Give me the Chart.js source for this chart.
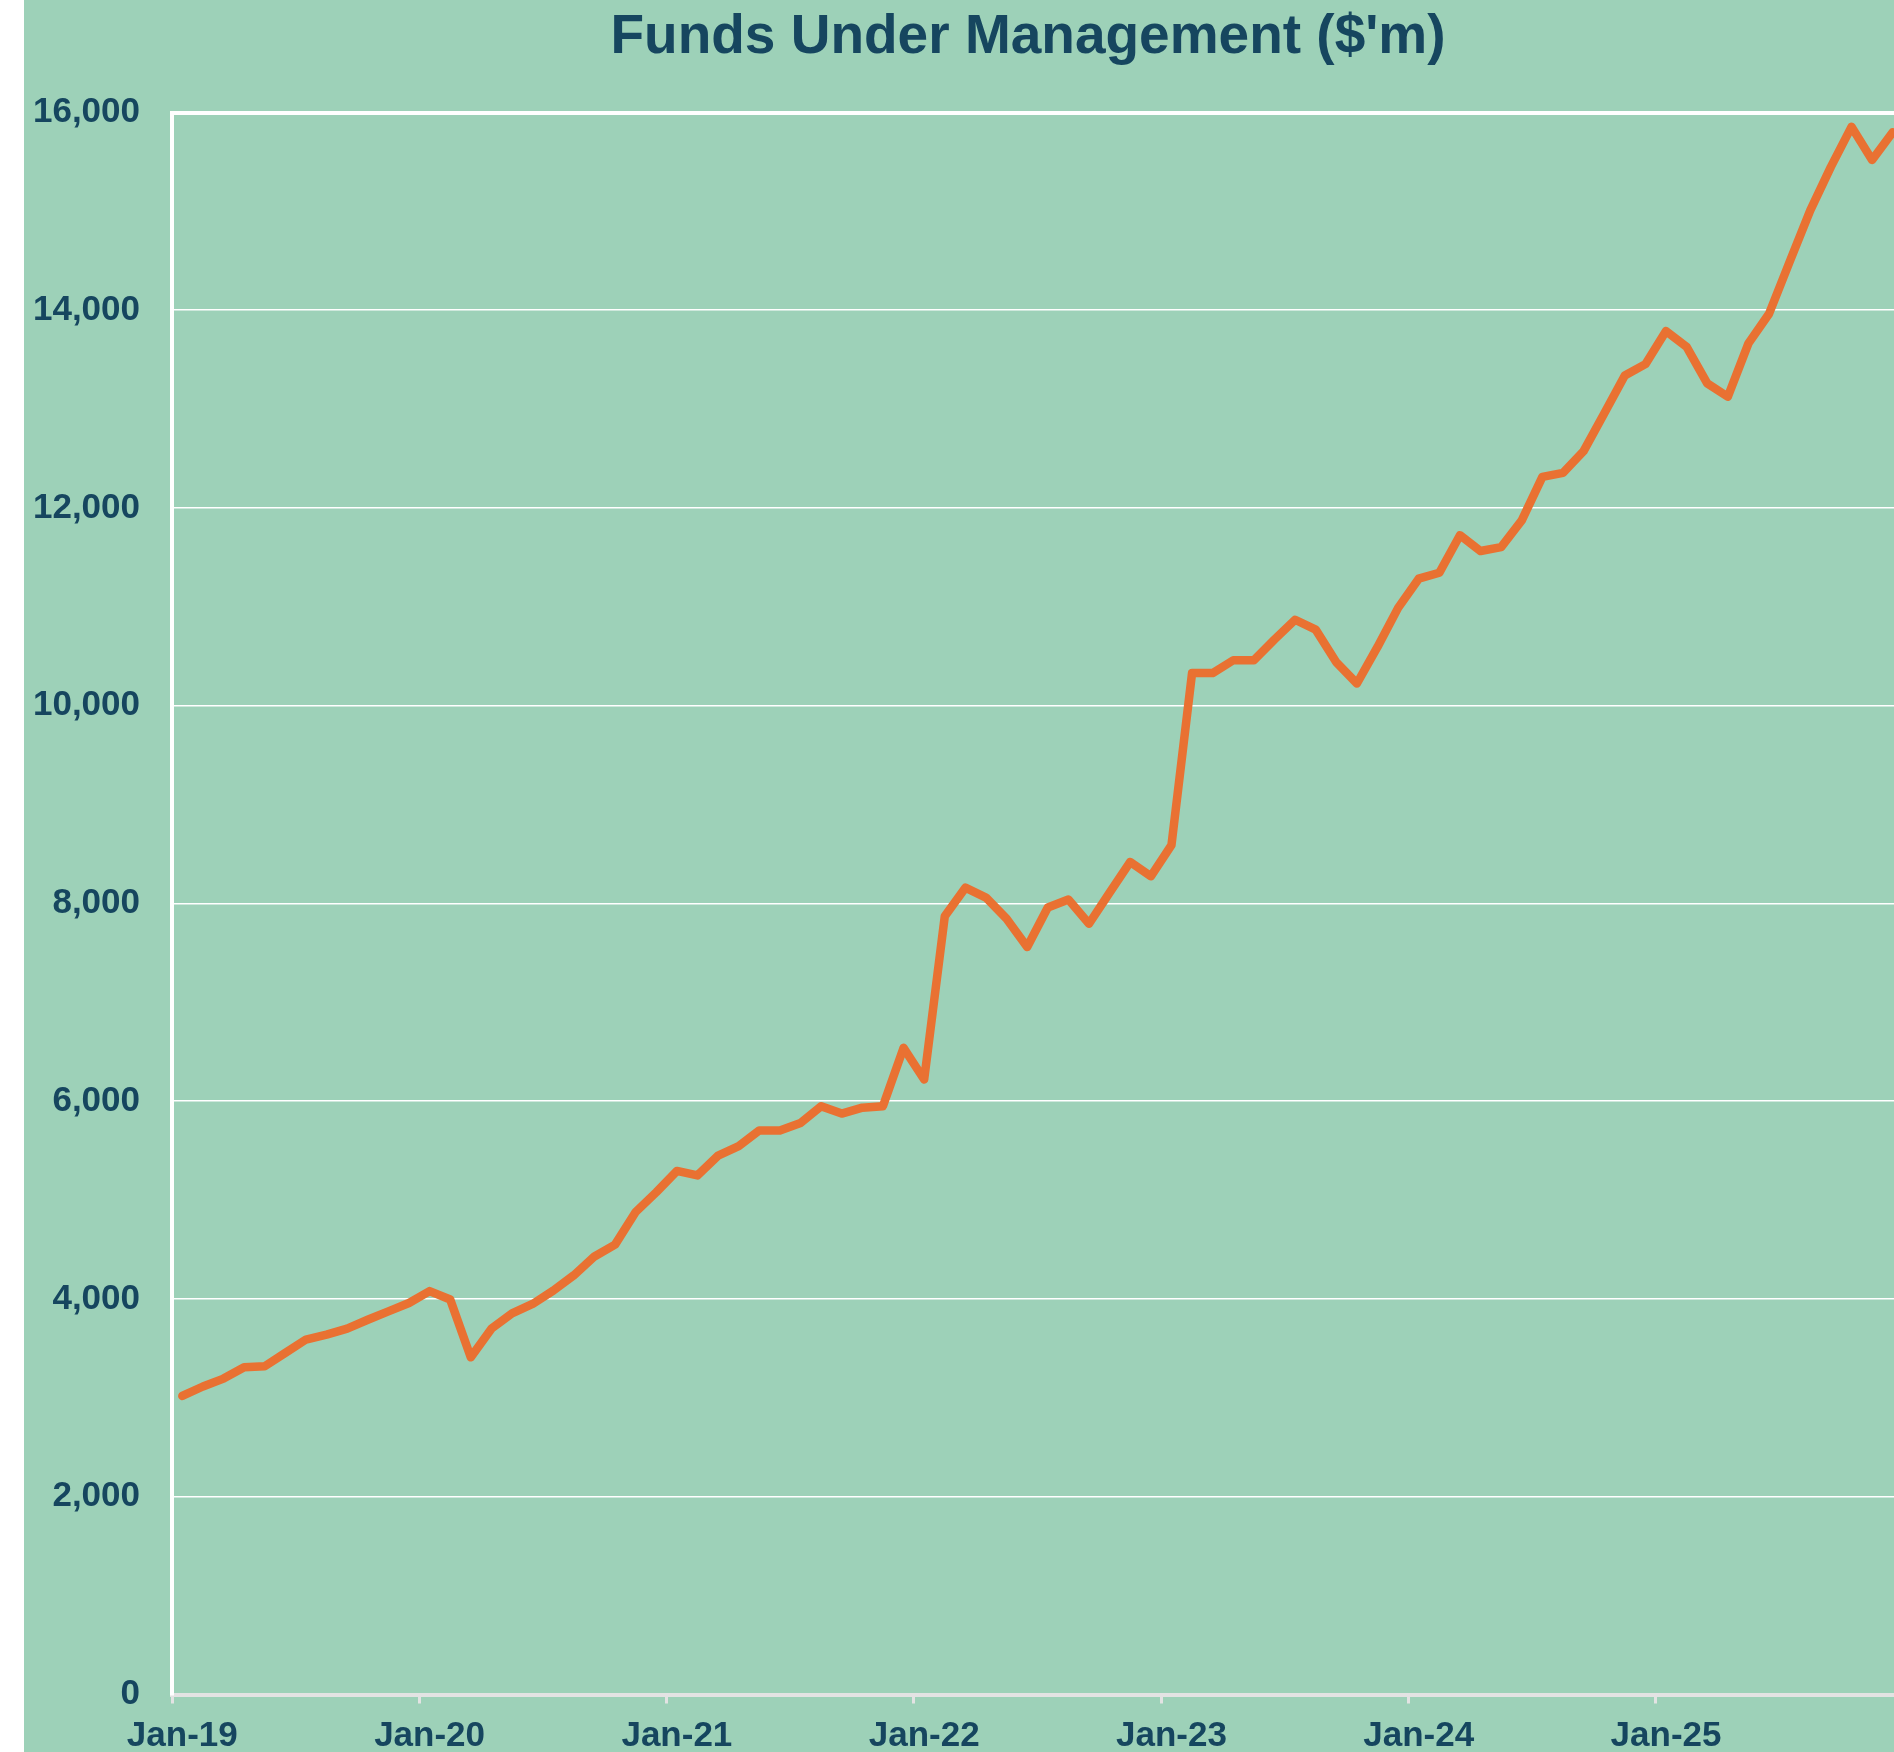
<!DOCTYPE html>
<html>
<head>
<meta charset="utf-8">
<title>Funds Under Management</title>
<script src="https://cdn.jsdelivr.net/npm/chart.js@4.4.1/dist/chart.umd.min.js"></script>
<style>
  html, body { margin: 0; padding: 0; background: #ffffff; width: 1894px; height: 1752px; overflow: hidden; }
  #wrap { position: absolute; left: 24px; top: 0; width: 2008px; height: 1752px; background: #9dd1b8; }
  canvas { display: block; }
</style>
</head>
<body>
<div id="wrap"><canvas id="fumChart" width="2008" height="1752"></canvas></div>
<script>
// month labels Jan-19 .. Dec-25
const years = ['19', '20', '21', '22', '23', '24', '25'];
const monthNames = ['Jan', 'Feb', 'Mar', 'Apr', 'May', 'Jun', 'Jul', 'Aug', 'Sep', 'Oct', 'Nov', 'Dec'];
const categories = [];
years.forEach(y => monthNames.forEach(m => categories.push(m + '-' + y)));

// FUM in $'m, one value per month
const fum2019 = [3020, 3115, 3195, 3310, 3320, 3455, 3590, 3640, 3700, 3790, 3875, 3960];
const fum2020 = [4080, 3995, 3410, 3700, 3855, 3950, 4085, 4240, 4430, 4550, 4880, 5080];
const fum2021 = [5295, 5250, 5450, 5545, 5705, 5705, 5780, 5950, 5875, 5935, 5950, 6540];
const fum2022 = [6220, 7870, 8160, 8060, 7845, 7560, 7960, 8040, 7795, 8110, 8420, 8275];
const fum2023 = [8590, 10330, 10330, 10460, 10460, 10670, 10870, 10770, 10440, 10225, 10595, 10990];
const fum2024 = [11285, 11345, 11725, 11565, 11605, 11875, 12315, 12355, 12575, 12955, 13340, 13455];
const fum2025 = [13790, 13630, 13260, 13125, 13665, 13965, 14490, 15010, 15450, 15855, 15520, 15800];
const fumValues = [].concat(fum2019, fum2020, fum2021, fum2022, fum2023, fum2024, fum2025);

const xTickLabels = ['Jan-19', 'Jan-20', 'Jan-21', 'Jan-22', 'Jan-23', 'Jan-24', 'Jan-25'];
const yTicks = [0, 2000, 4000, 6000, 8000, 10000, 12000, 14000, 16000];

const textColor = '#16465f';
const labelFont = { family: "'Liberation Sans', Arial, sans-serif", size: 35, weight: 'bold' };

const ctx = document.getElementById('fumChart').getContext('2d');
const fumChart = new Chart(ctx, {
    type: 'line',
    data: {
        labels: categories,
        datasets: [{
            label: "Funds Under Management ($'m)",
            data: fumValues,
            borderColor: '#e97132',
            borderWidth: 8.5,
            borderJoinStyle: 'round',
            borderCapStyle: 'round',
            pointRadius: 0,
            tension: 0,
            fill: false
        }]
    },
    options: {
        responsive: false,
        animation: false,
        layout: { padding: 0 },
        plugins: {
            legend: { display: false },
            tooltip: { enabled: false },
            title: {
                display: true,
                text: "Funds Under Management ($'m)",
                color: textColor,
                font: { family: "'Liberation Sans', Arial, sans-serif", size: 55, weight: 'bold', lineHeight: 1.2 },
                padding: { top: 5, bottom: 41.5 }
            }
        },
        scales: {
            x: {
                type: 'category',
                offset: true,
                afterFit: scale => { scale.height = 57.5; },
                grid: {
                    offset: true,
                    drawOnChartArea: false,
                    drawTicks: true,
                    tickLength: 9,
                    lineWidth: 3,
                    color: c => (c.index % 12 === 0 ? '#e3e3e3' : 'rgba(0,0,0,0)')
                },
                border: { display: true, color: '#e3e3e3', width: 4 },
                ticks: {
                    autoSkip: false,
                    maxRotation: 0,
                    minRotation: 0,
                    padding: 12,
                    color: textColor,
                    font: labelFont,
                    callback: function (value) {
                        const lab = this.getLabelForValue(value);
                        return xTickLabels.includes(lab) ? lab : '';
                    }
                }
            },
            y: {
                min: yTicks[0],
                max: yTicks[yTicks.length - 1],
                afterFit: scale => { scale.width = 148; },
                afterBuildTicks: scale => { scale.ticks = yTicks.map(v => ({ value: v })); },
                grid: {
                    drawTicks: false,
                    color: '#ffffff',
                    lineWidth: c => (c.tick && c.tick.value === yTicks[yTicks.length - 1] ? 4 : 1.6)
                },
                border: { display: true, color: '#ffffff', width: 4 },
                ticks: {
                    padding: 32,
                    color: textColor,
                    font: labelFont,
                    callback: v => v.toLocaleString('en-US')
                }
            },
            // empty right-hand margin box, so the title stays centred on the whole chart
            rightMargin: {
                position: 'right',
                afterFit: scale => { scale.width = 129; },
                grid: { display: false, drawOnChartArea: false },
                border: { display: false },
                ticks: { display: false }
            }
        }
    }
});
</script>
</body>
</html>
